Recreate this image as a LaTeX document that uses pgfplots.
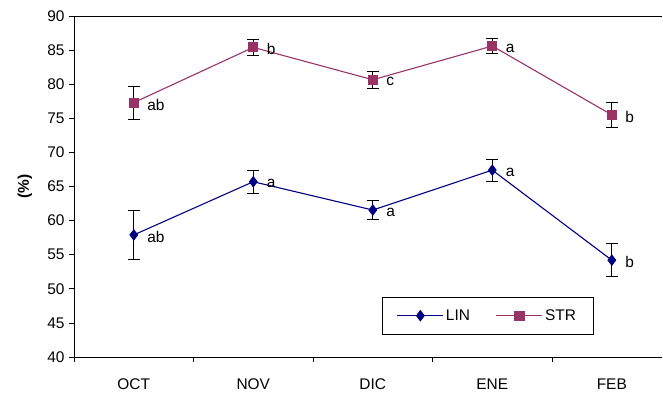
\documentclass[border=0pt]{standalone}
\usepackage{pgfplots}
\pgfplotsset{compat=1.18}
\usepackage{pgfplotstable}
\usepackage{fontspec}
\setmainfont{Liberation Sans}
\definecolor{lin}{RGB}{0,0,128}
\definecolor{str}{RGB}{153,51,102}
\pgfplotstableread{
x y e l
0 57.9 3.6 ab
1 65.7 1.65 a
2 61.55 1.35 a
3 67.4 1.6 a
4 54.2 2.4 b
}\lintab
\pgfplotstableread{
x y e l
0 77.3 2.4 ab
1 85.4 1.2 b
2 80.65 1.2 c
3 85.6 1.1 a
4 75.5 1.9 b
}\strtab
\begin{document}
\begin{tikzpicture}[x=1bp,y=1bp]
\path[use as bounding box] (-74,-42) rectangle (589,357);
\begin{axis}[
  at={(0,0)}, anchor=south west,
  scale only axis, width=588bp, height=341bp,
  xmin=-0.5, xmax=4.42, ymin=40, ymax=90,
  axis lines=left, axis line style={-, black, line width=0.9bp},
  xtick={0,1,2,3,4}, xticklabels={OCT,NOV,DIC,ENE,FEB},
  xtick style={draw=none},
  extra x ticks={-0.5,0.5,1.5,2.5,3.5}, extra x tick labels={},
  extra x tick style={xtick style={draw=black, line width=0.8bp}},
  ytick={40,45,...,90},
  tick align=outside, major tick length=5bp,
  ytick style={black, line width=0.8bp},
  tick label style={font=\fontsize{15.5}{18}\selectfont},
  xticklabel style={yshift=-13bp},
  yticklabel style={xshift=-1bp},
  /pgf/number format/assume math mode=true,
  ylabel={\textbf{(\%)}},
  every axis y label/.style={at={(axis description cs:0,0.5)}, xshift=-49bp, rotate=90, anchor=center, font=\fontsize{15.5}{18}\selectfont},
  legend style={at={(axis description cs:0.883,0.067)}, anchor=south east, legend columns=2, draw=black, line width=0.6bp, font=\fontsize{15.5}{18}\selectfont, inner xsep=15bp, inner ysep=10bp, /tikz/every even column/.append style={column sep=24bp}},
  legend image code/.code={\draw[mark repeat=2,mark phase=2,#1] plot coordinates {(0bp,0bp) (23bp,0bp) (46bp,0bp)};},
  nodes near coords, point meta=explicit symbolic,
  nodes near coords style={anchor=west, xshift=13bp, yshift=-2bp, text=black, inner sep=0pt, font=\fontsize{15.5}{18}\selectfont},
]
\addplot[lin, line width=1.1bp, mark=diamond*, mark size=5bp, mark options={fill=lin, draw=lin, solid},
  error bars/.cd, y dir=both, y explicit,
  error bar style={black, line width=0.8bp},
  error mark options={rotate=90, mark size=6bp, black, line width=0.8bp}]
  table[x=x, y=y, y error=e, meta=l]{\lintab};
\addlegendentry{LIN}
\addplot[str, line width=1.1bp, mark=square*, mark size=4.5bp, mark options={fill=str, draw=str, solid},
  error bars/.cd, y dir=both, y explicit,
  error bar style={black, line width=0.8bp},
  error mark options={rotate=90, mark size=6bp, black, line width=0.8bp}]
  table[x=x, y=y, y error=e, meta=l]{\strtab};
\addlegendentry{STR}
\draw[black, line width=0.9bp] (rel axis cs:0,1) -- (rel axis cs:1,1);
\end{axis}
\end{tikzpicture}
\end{document}
